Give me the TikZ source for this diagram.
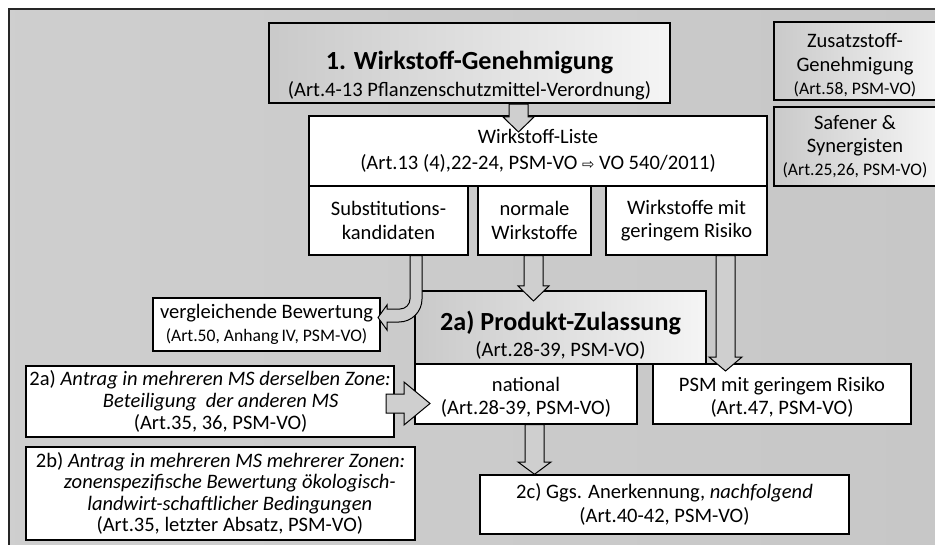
\documentclass[tikz,border=0pt]{standalone}
\usepackage{fontspec}
\setmainfont{Carlito}
\newfontfamily\symfont{DejaVu Sans}
\newcommand\fN{\fontsize{15.4}{17.4}\selectfont}
\newcommand\fT{\fontsize{19.6}{23}\selectfont\bfseries}
\newcommand\fS{\fontsize{13.2}{15}\selectfont}
\newcommand\fI{\fontsize{15.4}{16.2}\selectfont}
\newcommand\lowr[1]{\rule{0pt}{#1}}
\begin{document}
\begin{tikzpicture}[x=0.75pt,y=-0.75pt,
 pbox/.style args={#1/#2/#3/#4}{minimum width={(#3-#1)*0.75pt}, minimum height={(#4-#2)*0.75pt}, at={({(#1+#3)/2},{(#2+#4)/2})}},
 wbox/.style={draw=black, line width=1.1pt, fill=white, inner sep=0pt, align=center, font=\fN},
 gbox/.style={draw=black, line width=1.8pt, left color=black!21, right color=white!96!black, inner sep=0pt, align=center, font=\fN},
 barrow/.style={draw=black, line width=0.75pt, fill=black!19, line join=miter},
 bgbox/.style={draw=black!85, line width=1pt, left color=black!19, middle color=black!8, right color=black!22, inner sep=0pt}]
\useasboundingbox (0,0) rectangle (935,545);
\clip (0,0) rectangle (935,545);
% background frame
\node[bgbox, pbox=9/9/960/570] (bg) {};
% boxes
\node[gbox, pbox=269/23/670/103] (b1) {\lowr{33pt}{\fT 1. Wirkstoff-Genehmigung}\\[3pt](Art.4-13 Pflanzenschutzmittel-Verordnung)};
\node[gbox, pbox=774/22/936/100] (zus) {\lowr{17pt}Zusatzstoff-\\Genehmigung\\{\fS(Art.58, PSM-VO)}};
\node[gbox, pbox=774/107/936/186] (saf) {Safener \&\\Synergisten\\{\fS(Art.25,26, PSM-VO)}};
\node[wbox, pbox=309/116/767/186] (liste) {Wirkstoff-Liste\\[2pt](Art.13 (4),22-24, PSM-VO {\symfont\fontsize{11}{13}\selectfont ⇨} VO 540/2011)};
\node[wbox, pbox=309/186/468/255] (subst) {Substitutions-\\kandidaten};
\node[wbox, pbox=478/186/591/255] (norm) {normale\\Wirkstoffe};
\node[wbox, pbox=606/186/767/255] (gering) {Wirkstoffe mit\\geringem Risiko};
\node[wbox, pbox=153/298/380/351] (verg) {vergleichende Bewertung\\{\fS (Art.50, Anhang\,IV, PSM-VO)}};
\node[wbox, pbox=415/364/637/424] (nat) {\lowr{16pt}national\\(Art.28-39, PSM-VO)};
\node[wbox, pbox=653/364/911/424] (psm) {\lowr{16pt}PSM mit geringem Risiko\\(Art.47, PSM-VO)};
\node[gbox, pbox=415/291/706/364] (prod) {\lowr{26.5pt}{\fT 2a) Produkt-Zulassung}\\[2pt](Art.28-39, PSM-VO)};
\node[wbox, pbox=26/366/394/437, font=\fI] (a2a) {2a) \textit{Antrag in mehreren MS derselben Zone:}\\\hspace*{16pt}\textit{Beteiligung\ \ der anderen MS}\\\hspace*{16pt}(Art.35, 36, PSM-VO)};
\node[wbox, pbox=26/447/415/540, font=\fI] (a2b) {2b) \textit{Antrag in mehreren MS mehrerer Zonen:}\\\hspace*{14pt}\textit{zonenspezifische Bewertung ökologisch-}\\\hspace*{14pt}\textit{landwirt-schaftlicher Bedingungen}\\\hspace*{14pt}(Art.35, letzter Absatz, PSM-VO)};
\node[wbox, pbox=480/475/849/534] (c2) {2c) Ggs. Anerkennung, \textit{nachfolgend}\\(Art.40-42, PSM-VO)};
% block arrows
\draw[barrow] (509,0 |- b1.south) -- (509,117) -- (503,117) -- (518.5,132) -- (534,117) -- (528,117) -- (528,0 |- b1.south) -- cycle;
\draw[barrow] (524,0 |- norm.south) -- (524,286) -- (518,286) -- (533.5,301) -- (549,286) -- (543,286) -- (543,0 |- norm.south) -- cycle;
\draw[barrow] (716,0 |- gering.south) -- (716,357) -- (709,357) -- (725.5,371) -- (742,357) -- (735,357) -- (735,0 |- gering.south) -- cycle;
\draw[barrow] (525,0 |- nat.south) -- (525,462) -- (518,462) -- (534.5,0 |- c2.north) -- (551,462) -- (544,462) -- (544,0 |- nat.south) -- cycle;
\draw[barrow] (386,394) -- (404,394) -- (404,382) -- (430,403.5) -- (404,425) -- (404,413) -- (386,413) -- cycle;
\draw[barrow] (410,0 |- subst.south) -- (410,299) .. controls (410,304.5) and (405.5,309) .. (400,309) -- (387,309) -- (387,305) -- (378,317.5) -- (387,330) -- (387,322) -- (399,322) .. controls (411.7,322) and (422,311.7) .. (422,299) -- (422,0 |- subst.south) -- cycle;
\end{tikzpicture}
\end{document}
